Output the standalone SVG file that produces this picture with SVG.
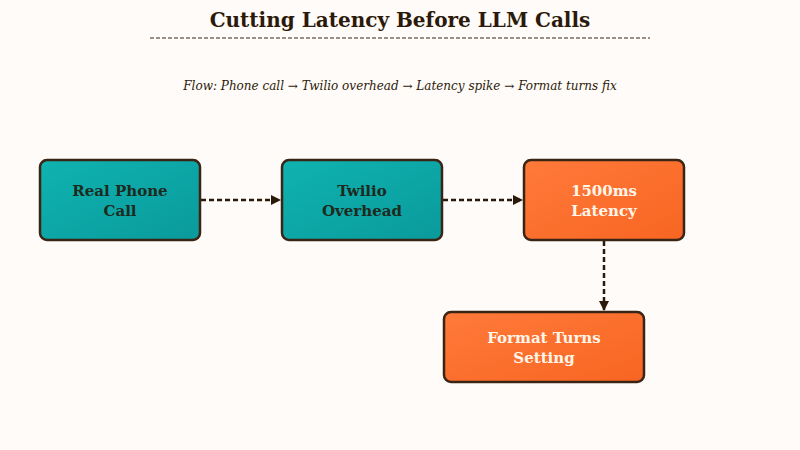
<svg xmlns="http://www.w3.org/2000/svg" width="800" height="450" viewBox="0 0 800 450">
<defs>
<linearGradient id="teal" x1="0" y1="0" x2="1" y2="1"><stop offset="0" stop-color="#0fb3b0"/><stop offset="1" stop-color="#0a9a9c"/></linearGradient>
<linearGradient id="orange" x1="0" y1="0" x2="1" y2="1"><stop offset="0" stop-color="#ff7a3a"/><stop offset="1" stop-color="#f86522"/></linearGradient>
<marker id="arr" markerWidth="10" markerHeight="10" refX="9" refY="5" orient="auto" markerUnits="userSpaceOnUse"><path d="M0,0 L10,5 L0,10 z" fill="#2b1a0a"/></marker>
<style>
.box{stroke:#3a2414;stroke-width:2.5}
.t{font-family:"DejaVu Serif","Liberation Serif",serif;font-weight:bold;font-size:15px;text-anchor:middle}
.dark{fill:#1e2a1e}.light{fill:#fff6ea}
.c{stroke:#2b1a0a;stroke-width:2.5;stroke-dasharray:5,3;fill:none}
</style>
</defs>
<rect width="800" height="450" fill="#fffbf8"/>
<text x="400" y="27" font-family="DejaVu Serif,serif" font-weight="bold" font-size="20" text-anchor="middle" fill="#2b1a0a">Cutting Latency Before LLM Calls</text>
<line x1="150" y1="38" x2="650" y2="38" stroke="#3a2414" stroke-width="1.2" stroke-dasharray="4,2"/>
<text x="400" y="90" font-family="DejaVu Serif,serif" font-style="italic" font-size="12" text-anchor="middle" fill="#2b1a0a">Flow: Phone call → Twilio overhead → Latency spike → Format turns fix</text>
<g id="connectors">
<path class="c" d="M201,200 H280" marker-end="url(#arr)"/>
<path class="c" d="M443,200 H522" marker-end="url(#arr)"/>
<path class="c" d="M604,241 V310" marker-end="url(#arr)"/>
</g>
<g id="n1"><rect class="box" x="40" y="160" width="160" height="80" rx="7" fill="url(#teal)"/><text class="t dark" x="120" y="196">Real Phone</text><text class="t dark" x="120" y="216">Call</text></g>
<g id="n2"><rect class="box" x="282" y="160" width="160" height="80" rx="7" fill="url(#teal)"/><text class="t dark" x="362" y="196">Twilio</text><text class="t dark" x="362" y="216">Overhead</text></g>
<g id="n3"><rect class="box" x="524" y="160" width="160" height="80" rx="7" fill="url(#orange)"/><text class="t light" x="604" y="196">1500ms</text><text class="t light" x="604" y="216">Latency</text></g>
<g id="n4"><rect class="box" x="444" y="312" width="200" height="70" rx="7" fill="url(#orange)"/><text class="t light" x="544" y="343">Format Turns</text><text class="t light" x="544" y="363">Setting</text></g>
</svg>
